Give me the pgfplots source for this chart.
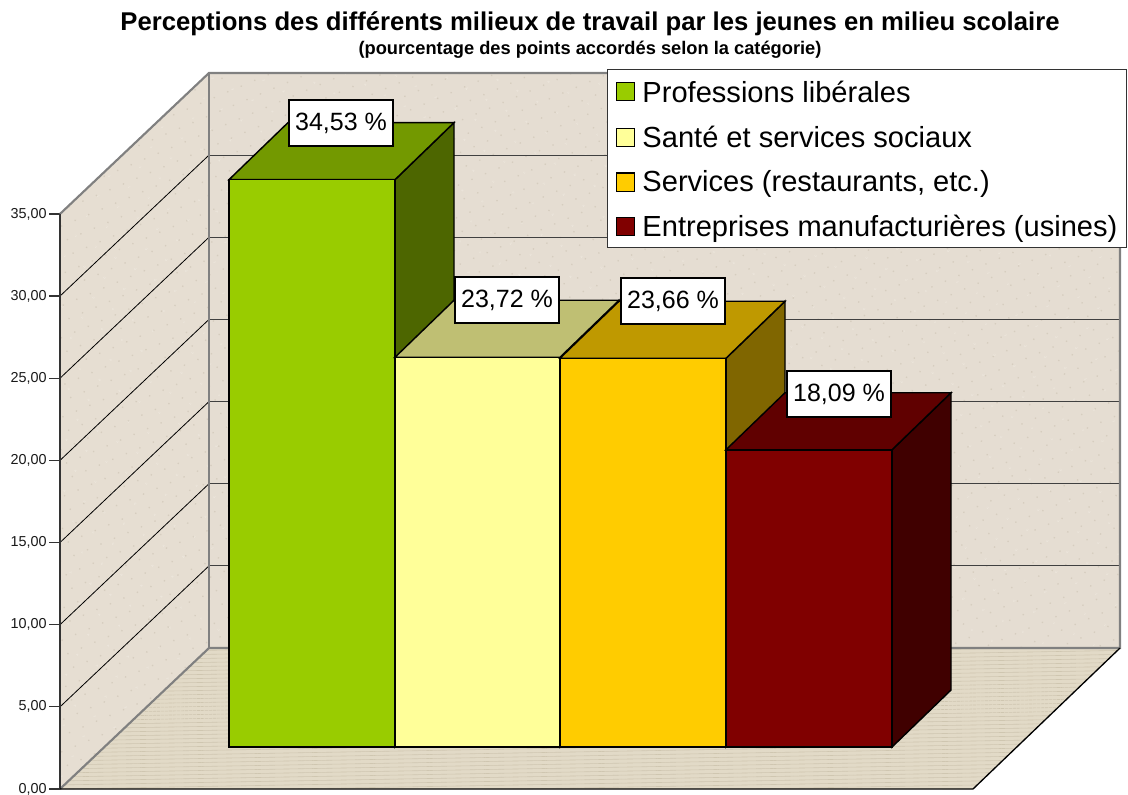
\documentclass[border=0pt]{standalone}
\usepackage{fontspec}
\setmainfont{Liberation Sans}
\usepackage{pgfplots}
\usetikzlibrary{patterns.meta}
\pgfplotsset{compat=1.18}
\definecolor{wallL}{HTML}{E6DED2}
\definecolor{wallB}{HTML}{E5DDD2}
\definecolor{floorc}{HTML}{E2DAC7}
\definecolor{speck}{HTML}{D6CDBF}
\definecolor{speckl}{HTML}{EEE8DE}
\definecolor{weave}{HTML}{CFC6B0}
\begin{document}
\begin{tikzpicture}[x=1pt,y=1pt]
\useasboundingbox (-45pt,-3.75pt) rectangle (801pt,591.75pt);
\begin{axis}[
  at={(0pt,0pt)}, anchor=origin,
  scale only axis, width=801pt, height=591pt,
  xmin=60, xmax=1128, ymin=0, ymax=47.96,
  clip=false,
  axis line style={draw=none},
  xtick=\empty,
  ytick={0,5,10,15,20,25,30,35},
  yticklabels={{0,00},{5,00},{10,00},{15,00},{20,00},{25,00},{30,00},{35,00}},
  ytick pos=left, tick align=outside, major tick length=8pt,
  tick style={draw=black!80,line width=0.9pt},
  yticklabel style={font=\fontsize{10.8}{12}\selectfont, xshift=1.5pt, text=black!90},
  area legend,
  legend cell align=left,
  legend image code/.code={\path[draw=none,fill=none] (0pt,0pt) -- (19.7pt,0pt);\draw[#1,line width=0.9pt] (3.25pt,-6.8pt) rectangle (16.75pt,6.8pt);},
  legend style={at={(axis cs:607,43.84)}, anchor=north west, draw=black!80, line width=0.8pt,
    fill=white, inner xsep=3.5pt, inner ysep=4.5pt, font=\fontsize{21.8}{24}\selectfont,
    row sep=12pt, /tikz/every even column/.append style={column sep=0pt},
    nodes={inner xsep=3pt}},
]
\pgfplotsset{face/.style={forget plot, line join=miter, draw=black, line width=1.1pt},
  wall/.style={forget plot, draw=none}}
% walls and floor
\addplot[wall, fill=wallL] coordinates {(60,0)(209,8.58)(209,43.58)(60,35)} --cycle;
\addplot[wall, fill=wallB] coordinates {(209,8.58)(1120,8.58)(1120,43.58)(209,43.58)} --cycle;
\addplot[wall, fill=floorc] coordinates {(60,0)(973,0)(1120,8.58)(209,8.58)} --cycle;
% wall and floor grain
\addplot[wall, pattern={Dots[radius=0.7pt,distance=11pt,angle=23]}, pattern color=speck] coordinates {(60,0)(209,8.58)(209,43.58)(60,35)} --cycle;
\addplot[wall, pattern={Dots[radius=0.7pt,distance=11pt,angle=23]}, pattern color=speck] coordinates {(209,8.58)(1120,8.58)(1120,43.58)(209,43.58)} --cycle;
\addplot[wall, pattern={Dots[radius=0.6pt,distance=17pt,angle=61]}, pattern color=speckl] coordinates {(60,0)(209,8.58)(209,43.58)(60,35)} --cycle;
\addplot[wall, pattern={Dots[radius=0.6pt,distance=17pt,angle=61]}, pattern color=speckl] coordinates {(209,8.58)(1120,8.58)(1120,43.58)(209,43.58)} --cycle;
\addplot[wall, pattern={Lines[distance=3pt,line width=0.45pt,angle=1]}, pattern color=weave] coordinates {(60,0)(973,0)(1120,8.58)(209,8.58)} --cycle;
% grid, side wall
\foreach \v/\w in {5/13.58,10/18.58,15/23.58,20/28.58,25/33.58,30/38.58}{
  \edef\temp{\noexpand\addplot[forget plot, draw=black, line width=0.6pt] coordinates {(60,\v)(209,\w)};
  \noexpand\addplot[forget plot, draw=black!75, line width=0.7pt] coordinates {(209,\w)(1120,\w)};}
  \temp
}
% wall borders
\addplot[forget plot, draw=black!50, line width=1.6pt, line join=miter] coordinates {(60,35)(209,43.58)(1120,43.58)(1120,8.58)(209,8.58)(60,0)};
\addplot[forget plot, draw=black!50, line width=1.6pt] coordinates {(209,43.58)(209,8.58)};
% axis
\addplot[forget plot, draw=black!80, line width=1.4pt] coordinates {(60,35)(60,0)};
\addplot[forget plot, draw=black, line width=1pt, line join=miter] coordinates {(60,0)(973,0)(1120,8.58)};
% bar 1: 34.53
\addplot[face, fill={rgb,255:red,77;green,102;blue,0}] coordinates {(395,2.556)(395,37.086)(454,40.556)(454,6.026)} --cycle;
\addplot[face, fill={rgb,255:red,115;green,153;blue,0}] coordinates {(229,37.086)(395,37.086)(454,40.556)(288,40.556)} --cycle;
\addplot[draw=black, line width=1.1pt, fill={rgb,255:red,153;green,204;blue,0}] coordinates {(229,2.556)(395,2.556)(395,37.086)(229,37.086)} --cycle;
\addlegendentry{\rule{0pt}{18.5pt}Professions libérales}
% bar 2: 23.72
\addplot[face, fill={rgb,255:red,128;green,128;blue,77}] coordinates {(560,2.556)(560,26.276)(619,29.746)(619,6.026)} --cycle;
\addplot[face, fill={rgb,255:red,191;green,191;blue,115}] coordinates {(395,26.276)(560,26.276)(619,29.746)(454,29.746)} --cycle;
\addplot[draw=black, line width=1.1pt, fill={rgb,255:red,255;green,255;blue,153}] coordinates {(395,2.556)(560,2.556)(560,26.276)(395,26.276)} --cycle;
\addlegendentry{Santé et services sociaux}
% bar 3: 23.66
\addplot[face, fill={rgb,255:red,128;green,102;blue,0}] coordinates {(726,2.556)(726,26.216)(785,29.686)(785,6.026)} --cycle;
\addplot[face, fill={rgb,255:red,191;green,153;blue,0}] coordinates {(560,26.216)(726,26.216)(785,29.686)(619,29.686)} --cycle;
\addplot[draw=black, line width=1.1pt, fill={rgb,255:red,255;green,204;blue,0}] coordinates {(560,2.556)(726,2.556)(726,26.216)(560,26.216)} --cycle;
\addlegendentry{Services (restaurants, etc.)}
% bar 4: 18.09
\addplot[face, fill={rgb,255:red,64;green,0;blue,0}] coordinates {(892,2.556)(892,20.646)(951,24.116)(951,6.026)} --cycle;
\addplot[face, fill={rgb,255:red,96;green,0;blue,0}] coordinates {(726,20.646)(892,20.646)(951,24.116)(785,24.116)} --cycle;
\addplot[draw=black, line width=1.1pt, fill={rgb,255:red,128;green,0;blue,0}] coordinates {(726,2.556)(892,2.556)(892,20.646)(726,20.646)} --cycle;
\addlegendentry{Entreprises manufacturières (usines)}
% value labels
\tikzset{val/.style={fill=white, draw=black, line width=0.9pt, inner sep=0pt, minimum width=78pt, minimum height=34.5pt, font=\fontsize{18.75}{20}\selectfont}}
\node[val] at (axis cs:341,40.53) {34,53 \%};
\node[val] at (axis cs:507,29.76) {23,72 \%};
\node[val] at (axis cs:673,29.70) {23,66 \%};
\node[val] at (axis cs:839,24.04) {18,09 \%};
% titles
\node[font=\bfseries\fontsize{19.26}{21}\selectfont] at (axis cs:590,46.6) {Perceptions des différents milieux de travail par les jeunes en milieu scolaire};
\node[font=\bfseries\fontsize{13.7}{15}\selectfont] at (axis cs:590,44.98) {(pourcentage des points accordés selon la catégorie)};
\end{axis}
\end{tikzpicture}
\end{document}
